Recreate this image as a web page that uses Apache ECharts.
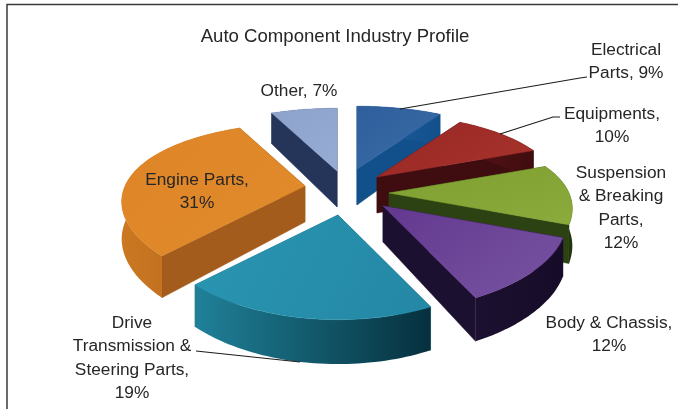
<!DOCTYPE html>
<html><head><meta charset="utf-8">
<style>html,body{margin:0;padding:0;background:#fff}#c{width:678px;height:409px}</style>
<script src="https://cdn.jsdelivr.net/npm/echarts@6/dist/echarts.min.js"></script>
</head><body><div id="c"></div>
<script>
const chartTitle = 'Auto Component Industry Profile';
const categories = ['Electrical Parts','Equipments','Suspension & Breaking Parts','Body & Chassis','Drive Transmission & Steering Parts','Engine Parts','Other'];
const values = [9,10,12,12,19,31,7];
const labelLines = [
  ['Electrical','Parts, 9%'],
  ['Equipments,','10%'],
  ['Suspension','& Breaking','Parts,','12%'],
  ['Body & Chassis,','12%'],
  ['Drive','Transmission &','Steering Parts,','19%'],
  ['Engine Parts,','31%'],
  ['Other, 7%']
];

// styling / layout of the exploded perspective pie
const topColors = [['#2f5f9c','#3f74ae'],['#9c2a26','#b03a30'],['#7f9f30','#8fae40'],['#63398f','#75509f'],['#2a97b3','#2488a6'],['#de8426','#e08a2c'],['#8ea3cc','#9db2d8']];
const wallColors = ['#12508c','#3f0c10','#2c4212','#1c1030','#0d5468','#a35c1b','#25355a'];
const rimStops = [['#1c5f9e','#12508c'],['#5a1414','#3f0c10'],['#3e5a1a','#22320f'],['#1c1030','#160c28'],['#1f8199','#06303e'],['#cc7822','#b0651c'],['#25355a','#25355a']];
const apexX = [357,377,389,383,338,305,337];
const apexY = [169,177,193,206,215,186,171];
const RX = 180, RY = 78.5, PERSP_X = 0.19, PERSP_Y = 0.25, DEPTH = 36;
const labelAnchors = [[626,50],[612,114],[621,173],[609,323],[132,323],[197,180],[299,91]];
const LINE_H = 23.4;
const leaders = [
  [[587,77],[580,78],[400,109]],
  [[560,117],[553,117],[500,134]],
  [[196,351],[300,362]]
];

const total = values.reduce((a,b)=>a+b,0);
const starts = values.map((v,i)=>values.slice(0,i).reduce((a,b)=>a+b,0)/total*Math.PI*2);

function pt(a, ax, ay, down){
  const X = Math.sin(a), Y = -Math.cos(a), sx = 1/(1-PERSP_X*Y), sy = 1/(1-PERSP_Y*Y);
  return [ax+RX*X*sx, ay+RY*Y*sy+(down?DEPTH*sx:0)];
}
function renderItem(params, api){
  const i = params.dataIndex, v = api.value(0);
  const a0 = starts[i], a1 = a0 + v/total*Math.PI*2;
  const ax = apexX[i], ay = apexY[i];
  const n = 48, top = [], low = [];
  for(let k=0;k<=n;k++){
    const a = a0+(a1-a0)*k/n;
    top.push(pt(a,ax,ay,false)); low.push(pt(a,ax,ay,true));
  }
  const apexTop=[ax,ay], apexLow=[ax,ay+DEPTH];
  const xs = top.map(p=>p[0]);
  const grad=(c,x0,x1,y0,y1)=>({type:'linear',global:true,x:x0,y:y0,x2:x1,y2:y1,colorStops:[{offset:0,color:c[0]},{offset:1,color:c[1]}]});
  const minX=Math.min(...xs), maxX=Math.max(...xs);
  const wall=(p,q,r,t)=>({type:'polygon',shape:{points:[p,q,r,t]},style:{fill:wallColors[i],stroke:wallColors[i],lineWidth:.5}});
  return {type:'group',children:[
    wall(apexTop,top[0],low[0],apexLow),
    wall(apexTop,top[n],low[n],apexLow),
    {type:'polygon',shape:{points:top.concat(low.slice().reverse())},
     style:{fill:grad(rimStops[i],minX,maxX,0,0),stroke:null}},
    {type:'polygon',shape:{points:[apexTop].concat(top)},
     style:{fill:grad(topColors[i],minX,maxX,ay-60,ay+60),stroke:topColors[i][0],lineWidth:.5}}
  ]};
}

const graphics = [
  {type:'polyline',shape:{points:[[7,409],[7,4.5],[678,4.5]]},style:{stroke:'#3a3a3a',lineWidth:1.5,fill:null},z:1},
  {type:'text',x:335,y:37,style:{text:chartTitle,fill:'#262626',font:'18.6px "Liberation Sans", Arial, sans-serif',textAlign:'center',textVerticalAlign:'middle'},z:20}
];
labelLines.forEach((lines,i)=>{
  lines.forEach((t,j)=>graphics.push({type:'text',x:labelAnchors[i][0],y:labelAnchors[i][1]+j*LINE_H,
    style:{text:t,fill:'#262626',font:'17.3px "Liberation Sans", Arial, sans-serif',textAlign:'center',textVerticalAlign:'middle'},z:20}));
});
leaders.forEach(p=>graphics.push({type:'polyline',shape:{points:p},style:{stroke:'#1c1c1c',lineWidth:1.1,fill:null},z:15}));

const chart = echarts.init(document.getElementById('c'),null,{renderer:'canvas'});
chart.setOption({
  animation:false,
  backgroundColor:'#ffffff',
  graphic:{elements:graphics},
  series:[{type:'custom',coordinateSystem:'none',renderItem,silent:true,z:5,
    data:values.map((v,i)=>({name:categories[i],value:[v]}))}]
});
</script></body></html>
